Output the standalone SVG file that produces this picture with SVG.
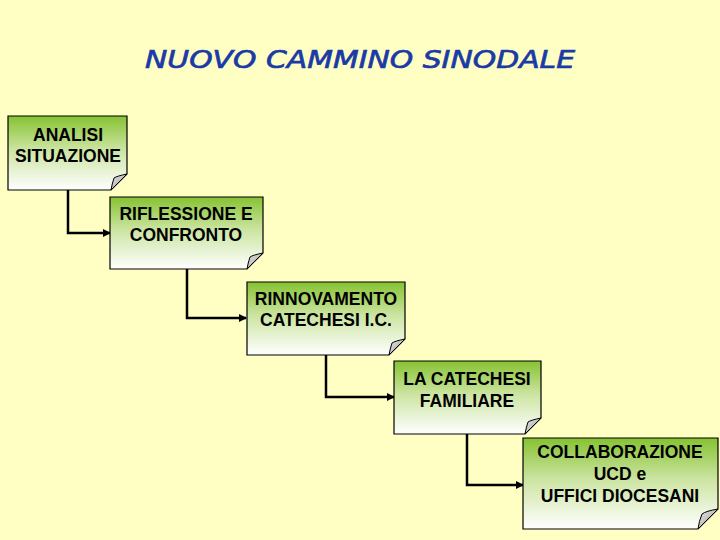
<svg xmlns="http://www.w3.org/2000/svg" width="720" height="540" viewBox="0 0 720 540">
<defs>
<linearGradient id="g" x1="0" y1="0" x2="0" y2="1">
<stop offset="0" stop-color="#86c232"/>
<stop offset="0.45" stop-color="#cbe4a0"/>
<stop offset="1" stop-color="#ffffff"/>
</linearGradient>
<linearGradient id="f" x1="0" y1="0" x2="1" y2="1">
<stop offset="0" stop-color="#e8e8e8"/>
<stop offset="1" stop-color="#9a9a9a"/>
</linearGradient>
<marker id="a" markerWidth="8" markerHeight="8" refX="7" refY="4" orient="auto" markerUnits="userSpaceOnUse">
<path d="M0,0 L8,4 L0,8 Z" fill="#000"/>
</marker>
</defs>
<style>
.box{fill:url(#g);stroke:#000;stroke-width:1.2}
.fold{fill:url(#f);stroke:#000;stroke-width:1}
.t{font-family:"Liberation Sans",Arial,sans-serif;font-weight:bold;font-size:17.5px;fill:#000;text-anchor:middle}
.c{fill:none;stroke:#000;stroke-width:2.5}
</style>
<rect width="720" height="540" fill="#ffffc4"/>
<text x="360" y="68" font-family="'DejaVu Sans',sans-serif" font-style="italic" font-size="25" fill="#1a3aa6" stroke="#1a3aa6" stroke-width="0.7" text-anchor="middle" textLength="430" lengthAdjust="spacingAndGlyphs">NUOVO CAMMINO SINODALE</text>
<g id="connectors">
<path class="c" d="M68,190 V233 H110" marker-end="url(#a)"/>
<path class="c" d="M187,269 V318 H246" marker-end="url(#a)"/>
<path class="c" d="M326,355 V397 H394" marker-end="url(#a)"/>
<path class="c" d="M467,434 V485 H523" marker-end="url(#a)"/>
</g>
<g id="n1">
<path class="box" d="M8,116 H127 V174 L111,190 H8 Z"/>
<path class="fold" d="M111,190 L127,174 Q117,176 114,178 Q112,184 111,190 Z"/>
<text class="t" x="68" y="141">ANALISI</text>
<text class="t" x="68" y="162">SITUAZIONE</text>
</g>
<g id="n2">
<path class="box" d="M110,197 H263 V253 L247,269 H110 Z"/>
<path class="fold" d="M247,269 L263,253 Q253,255 250,257 Q248,263 247,269 Z"/>
<text class="t" x="186" y="220">RIFLESSIONE E</text>
<text class="t" x="186" y="241">CONFRONTO</text>
</g>
<g id="n3">
<path class="box" d="M247,282 H405 V339 L389,355 H247 Z"/>
<path class="fold" d="M389,355 L405,339 Q395,341 392,343 Q390,349 389,355 Z"/>
<text class="t" x="326" y="305">RINNOVAMENTO</text>
<text class="t" x="326" y="326">CATECHESI I.C.</text>
</g>
<g id="n4">
<path class="box" d="M394,361 H541 V418 L525,434 H394 Z"/>
<path class="fold" d="M525,434 L541,418 Q531,420 528,422 Q526,428 525,434 Z"/>
<text class="t" x="467" y="385">LA CATECHESI</text>
<text class="t" x="467" y="407">FAMILIARE</text>
</g>
<g id="n5">
<path class="box" d="M523,438 H718 V509 L698,529 H523 Z"/>
<path class="fold" d="M698,529 L718,509 Q706,511 702,514 Q699,521 698,529 Z"/>
<text class="t" x="620" y="458">COLLABORAZIONE</text>
<text class="t" x="620" y="480">UCD e</text>
<text class="t" x="620" y="502">UFFICI DIOCESANI</text>
</g>
</svg>
